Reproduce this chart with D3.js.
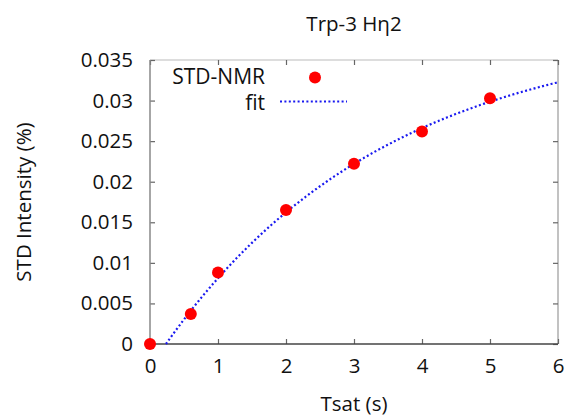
<!DOCTYPE html>
<html>
<head>
<meta charset="utf-8">
<script src="https://cdn.jsdelivr.net/npm/d3@7"></script>
<style>
  html, body { margin: 0; padding: 0; background: #fff; }
  svg text { font-family: "Open Sans", "Noto Sans", sans-serif; fill: #111; }
</style>
</head>
<body>
<svg id="chart" width="571" height="420"></svg>
<script>
// Saturation times (s) and measured STD intensities (%)
const tsat = [0, 0.6, 1, 2, 3, 4, 5];
const stdIntensity = [0, 0.0037, 0.0088, 0.0165, 0.0222, 0.0262, 0.0303];

// Mono-exponential build-up fit: I(t) = A * (1 - exp(-k (t - t0)))
const fitA = 0.03897;
const fitK = 0.305;
const fitT0 = 0.235;

const xTicks = [0, 1, 2, 3, 4, 5, 6];
const yTicks = [0, 0.005, 0.01, 0.015, 0.02, 0.025, 0.03, 0.035];

const titleText = "Trp-3 H\u03B72";
const xLabel = "Tsat (s)";
const yLabel = "STD Intensity (%)";
const legendLabels = ["STD-NMR", "fit"];

const FS = 20.5;
const margin = { left: 150, right: 13, top: 60, bottom: 76 };
const W = 571, H = 420;
const svg = d3.select("#chart");

const x = d3.scaleLinear().domain([0, 6]).range([margin.left, W - margin.right]);
const y = d3.scaleLinear().domain([0, 0.035]).range([H - margin.bottom, margin.top]);

const x0 = x.range()[0], x1 = x.range()[1];
const y0 = y.range()[0], y1 = y.range()[1];

// Frame: light top/right, darker left/bottom
svg.append("line").attr("x1", x0).attr("x2", x1).attr("y1", y1).attr("y2", y1)
  .attr("stroke", "#bbb").attr("stroke-width", 1.2);
svg.append("line").attr("x1", x1).attr("x2", x1).attr("y1", y1).attr("y2", y0)
  .attr("stroke", "#999").attr("stroke-width", 1.2);

// Inward ticks on all four sides via d3 axes
const fmtY = d => d === 0 ? "0" : d3.format("")(+d.toFixed(3));
const leftAxis = svg.append("g").attr("transform", `translate(${x0},0)`)
  .call(d3.axisLeft(y).tickValues(yTicks).tickSizeInner(-5).tickSizeOuter(0).tickPadding(17).tickFormat(fmtY));
const rightAxis = svg.append("g").attr("transform", `translate(${x1},0)`)
  .call(d3.axisRight(y).tickValues(yTicks).tickSizeInner(-5).tickSizeOuter(0).tickFormat(""));
const bottomAxis = svg.append("g").attr("transform", `translate(0,${y0})`)
  .call(d3.axisBottom(x).tickValues(xTicks).tickSizeInner(-5).tickSizeOuter(0).tickPadding(14).tickFormat(d3.format("d")));
const topAxis = svg.append("g").attr("transform", `translate(0,${y1})`)
  .call(d3.axisTop(x).tickValues(xTicks).tickSizeInner(-5).tickSizeOuter(0).tickFormat(""));

[leftAxis, rightAxis, bottomAxis, topAxis].forEach(g => {
  g.select(".domain").remove();
  g.selectAll(".tick line").attr("stroke", "#666").attr("stroke-width", 1.2);
  g.selectAll("text").attr("font-size", FS).attr("fill", "#111")
    .attr("font-family", "\"Open Sans\", sans-serif");
});

svg.append("line").attr("x1", x0).attr("x2", x0).attr("y1", y1).attr("y2", y0)
  .attr("stroke", "#888").attr("stroke-width", 1.5);
svg.append("line").attr("x1", x0).attr("x2", x1).attr("y1", y0).attr("y2", y0)
  .attr("stroke", "#444").attr("stroke-width", 1.5);

// Fit curve sampled over the plotted range
const fitFn = t => fitA * (1 - Math.exp(-fitK * (t - fitT0)));
const fitTimes = d3.range(fitT0, 6.0001, 0.02);
const line = d3.line().x(t => x(t)).y(t => y(fitFn(t)));
svg.append("path").datum(fitTimes).attr("d", line)
  .attr("fill", "none").attr("stroke", "#1a1af0").attr("stroke-width", 2.2)
  .attr("stroke-dasharray", "2,2.4");

// Data points
svg.append("g").selectAll("circle").data(tsat).join("circle")
  .attr("cx", (d) => x(d))
  .attr("cy", (d, i) => y(stdIntensity[i]))
  .attr("r", 6).attr("fill", "#f00");

// Legend (Lato keeps the two tightly stacked rows from colliding)
const leg = svg.append("g");
leg.selectAll("text").data(legendLabels).join("text")
  .attr("x", 265)
  .attr("y", (d, i) => 84 + i * 25.5)
  .attr("text-anchor", "end")
  .attr("font-family", "Lato, \"Open Sans\", sans-serif")
  .attr("font-size", 21)
  .text(d => d);
leg.append("circle").attr("cx", 315).attr("cy", 77.5).attr("r", 6).attr("fill", "#f00");
leg.append("line").attr("x1", 280).attr("x2", 347).attr("y1", 101.5).attr("y2", 101.5)
  .attr("stroke", "#1a1af0").attr("stroke-width", 2.2).attr("stroke-dasharray", "2,2.4");

// Titles
svg.append("text").attr("x", (x0 + x1) / 2).attr("y", 31).attr("text-anchor", "middle")
  .attr("font-size", FS).text(titleText);
svg.append("text").attr("x", (x0 + x1) / 2).attr("y", 411).attr("text-anchor", "middle")
  .attr("font-size", FS).text(xLabel);
svg.append("text").attr("transform", `translate(31,${(y0 + y1) / 2}) rotate(-90)`)
  .attr("text-anchor", "middle").attr("font-size", FS).text(yLabel);
</script>
</body>
</html>
